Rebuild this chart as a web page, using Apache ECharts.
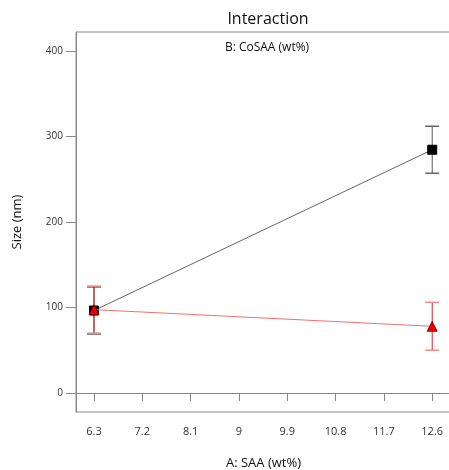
<!DOCTYPE html>
<html>
<head>
<meta charset="utf-8">
<script src="https://cdn.jsdelivr.net/npm/echarts@6/dist/echarts.min.js"></script>
<style>
  html, body { margin: 0; padding: 0; background: #fff; }
  #main { width: 449px; height: 470px; }
</style>
</head>
<body>
<div id="main"></div>
<script>
// data
const xLevels = [6.3, 12.6];
const xTicks = [6.3, 7.2, 8.1, 9, 9.9, 10.8, 11.7, 12.6];
const yTicks = [0, 100, 200, 300, 400];
const highSize = [96.5, 284.5];  // black squares
const highErr = [27.5, 27.5];
const lowSize = [97.5, 78];      // red triangles
const lowErr = [27.5, 28];

const chart = echarts.init(document.getElementById('main'));
const font = '"Open Sans", "Noto Sans", sans-serif';

function errBars(vals, errs, stemColor, capColor) {
  return {
    type: 'custom',
    z: 3,
    data: xLevels.map((x, i) => [x, vals[i] - errs[i], vals[i] + errs[i]]),
    renderItem: function (params, api) {
      const lo = api.coord([api.value(0), api.value(1)]);
      const hi = api.coord([api.value(0), api.value(2)]);
      const w = 7;
      return {
        type: 'group',
        children: [
          { type: 'line', shape: { x1: lo[0], y1: lo[1], x2: hi[0], y2: hi[1] }, style: { stroke: stemColor, lineWidth: 1 } },
          { type: 'line', shape: { x1: lo[0] - w, y1: lo[1], x2: lo[0] + w, y2: lo[1] }, style: { stroke: capColor, lineWidth: 1.5 } },
          { type: 'line', shape: { x1: hi[0] - w, y1: hi[1], x2: hi[0] + w, y2: hi[1] }, style: { stroke: capColor, lineWidth: 1.5 } }
        ]
      };
    }
  };
}

const option = {
  backgroundColor: '#fff',
  animation: false,
  textStyle: { fontFamily: font },
  title: [
    { text: 'Interaction', left: 263, top: 6, textAlign: 'center',
      textStyle: { fontSize: 16, fontWeight: 'normal', color: '#111', fontFamily: font } },
    { text: 'B: CoSAA (wt%)', left: 262, top: 37, textAlign: 'center',
      textStyle: { fontSize: 12, fontWeight: 'normal', color: '#111', fontFamily: font } }
  ],
  grid: { left: 76, top: 32, right: -2, bottom: 58, show: true, borderColor: '#888', borderWidth: 1,
    outerBoundsMode: 'none', containLabel: false },
  xAxis: {
    type: 'value',
    min: 5.965,
    max: 12.95,
    name: 'A: SAA (wt%)',
    nameLocation: 'middle',
    nameGap: 45,
    nameTextStyle: { fontSize: 13, color: '#111' },
    splitLine: { show: false },
    axisLine: { lineStyle: { color: '#888' } },
    axisTick: { show: true, customValues: xTicks, length: 8, lineStyle: { color: '#888' } },
    axisLabel: { customValues: xTicks, fontSize: 11, color: '#333', margin: 14,
      formatter: v => String(+v.toFixed(1)) }
  },
  yAxis: {
    type: 'value',
    min: -22.2,
    max: 422.2,
    name: 'Size (nm)',
    nameLocation: 'middle',
    nameGap: 52,
    nameTextStyle: { fontSize: 13, color: '#111' },
    splitLine: { show: false },
    axisLine: { show: true, lineStyle: { color: '#888' } },
    axisTick: { show: true, customValues: yTicks, length: 10, lineStyle: { color: '#888' } },
    axisLabel: { customValues: yTicks, fontSize: 10, color: '#333', margin: 13 }
  },
  series: [
    errBars(highSize, highErr, '#555', '#666'),
    {
      type: 'line',
      z: 4,
      data: xLevels.map((x, i) => [x, highSize[i]]),
      symbol: 'rect',
      symbolSize: 9,
      lineStyle: { color: '#666', width: 1 },
      itemStyle: { color: '#000', borderColor: '#000' }
    },
    errBars(lowSize, lowErr, '#e02020', '#f08a8a'),
    {
      type: 'line',
      z: 5,
      data: xLevels.map((x, i) => [x, lowSize[i]]),
      symbol: 'triangle',
      symbolSize: 10,
      lineStyle: { color: '#f07070', width: 1 },
      itemStyle: { color: '#ee0000', borderColor: '#600', borderWidth: 0.8 }
    }
  ]
};

chart.setOption(option);
</script>
</body>
</html>
